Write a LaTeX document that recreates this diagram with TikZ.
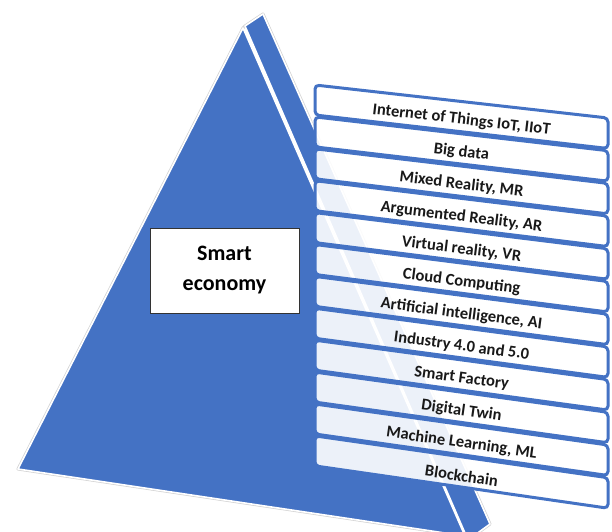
\documentclass[tikz,border=0pt]{standalone}
\usepackage{fontspec}
\setmainfont{Carlito}
\usepackage{xcolor}
\usepackage{tikz}
\definecolor{pyrblue}{HTML}{4472C4}

\begin{document}
\begin{tikzpicture}[x=1pt,y=-1pt]
  \tikzset{ face/.style={fill=pyrblue,draw=white,line width=1.6pt,line join=round},
    layer/.style={draw=pyrblue,line width=3pt,fill=white,fill opacity=0.9,rounded corners=4pt},
    lbl/.style={font=\fontsize{16.5}{18}\selectfont\bfseries,text=black!90,inner sep=0pt},
  }
  \useasboundingbox (0,0) rectangle (612,531);
  \clip (0,0) rectangle (612,531);

  % the pyramid, front and side
  \draw[gray!35,line width=3pt,line join=round] (465,536) -- (18,469) -- (243,28) -- (245,26) -- (263,14) -- (490,524) -- (468,540);
  \draw[face] (245,26) -- (263,14) -- (490,524) -- (468,540) -- cycle;
  \draw[face] (18,469) -- (243,28) -- (465,536) -- cycle;

  \node[draw=black!80,fill=white,line width=0.8pt,minimum width=149pt,minimum height=85pt,
    align=center,font=\fontsize{22}{30}\selectfont\bfseries] (eco) at (224.5,270.5) {Smart\\economy};

  % the layers
  \draw[layer] (315,85) -- (608,118) -- (608,148.5) -- (315,115) -- cycle;
  \draw[layer] (315,116.9) -- (608,150.7) -- (608,181.2) -- (315,146.9) -- cycle;
  \draw[layer] (315,148.8) -- (608,183.4) -- (608,213.9) -- (315,178.8) -- cycle;
  \draw[layer] (315,180.7) -- (608,216.1) -- (608,246.6) -- (315,210.7) -- cycle;
  \draw[layer] (315,212.6) -- (608,248.8) -- (608,279.3) -- (315,242.6) -- cycle;
  \draw[layer] (315,244.5) -- (608,281.5) -- (608,312) -- (315,274.5) -- cycle;
  \draw[layer] (315,276.4) -- (608,314.2) -- (608,344.7) -- (315,306.4) -- cycle;
  \draw[layer] (315,308.3) -- (608,346.9) -- (608,377.4) -- (315,338.3) -- cycle;
  \draw[layer] (315,340.2) -- (608,379.6) -- (608,410.1) -- (315,370.2) -- cycle;
  \draw[layer] (315,372.1) -- (608,412.3) -- (608,442.8) -- (315,402.1) -- cycle;
  \draw[layer] (315,404) -- (608,445) -- (608,475.5) -- (315,434) -- cycle;
  \draw[layer] (315,435.9) -- (608,477.7) -- (608,508.2) -- (315,465.9) -- cycle;

  % labels along the layers
  \path (315,103) -- (608,137) node[lbl,midway,sloped] (t1) {Internet of Things IoT, IIoT};
  \path (315,135) -- (608,169.5) node[lbl,midway,sloped] (t2) {Big data};
  \path (315,167) -- (608,202.2) node[lbl,midway,sloped] (t3) {Mixed Reality, MR};
  \path (315,199) -- (608,235) node[lbl,midway,sloped] (t4) {Argumented Reality, AR};
  \path (315,231) -- (608,267.6) node[lbl,midway,sloped] (t5) {Virtual reality, VR};
  \path (315,263) -- (608,300.3) node[lbl,midway,sloped] (t6) {Cloud Computing};
  \path (315,295) -- (608,333) node[lbl,midway,sloped] (t7) {Artificial intelligence, AI};
  \path (315,326.8) -- (608,365.7) node[lbl,midway,sloped] (t8) {Industry 4.0 and 5.0};
  \path (315,358.7) -- (608,398.4) node[lbl,midway,sloped] (t9) {Smart Factory};
  \path (315,390.6) -- (608,431.1) node[lbl,midway,sloped] (t10) {Digital Twin};
  \path (315,422.5) -- (608,463.8) node[lbl,midway,sloped] (t11) {Machine Learning, ML};
  \path (315,454.4) -- (608,496.5) node[lbl,midway,sloped] (t12) {Blockchain};
\end{tikzpicture}
\end{document}
